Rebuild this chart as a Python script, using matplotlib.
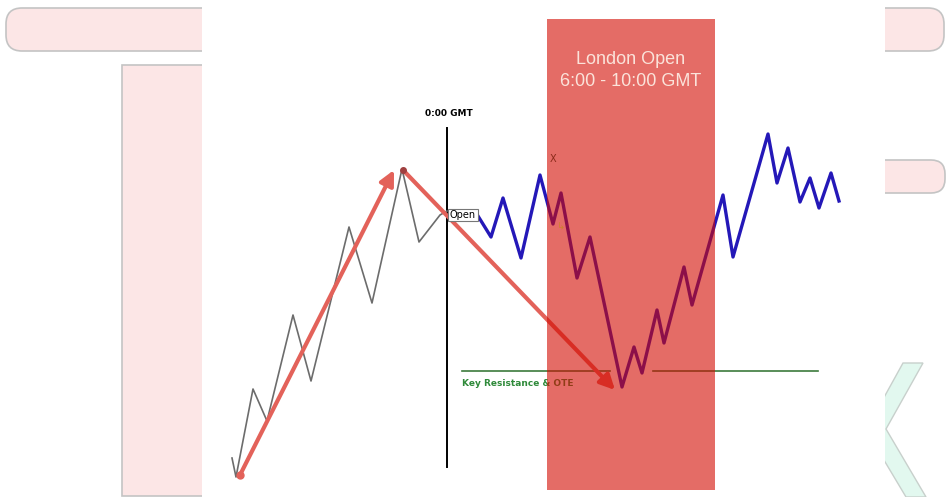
import matplotlib
matplotlib.use("Agg")
import matplotlib.pyplot as plt
from matplotlib.patches import Rectangle, FancyBboxPatch, Polygon

# price path before the 0:00 GMT open (x = time, y = screen position)
pre_x = [232, 236, 253, 267, 293, 311, 349, 372, 402, 419, 440, 447]
pre_y = [458, 477, 389, 421, 315, 381, 227, 303, 169, 242, 215, 211]

# price path after the open
post_x = [478, 491, 503, 521, 540, 553, 561, 577, 590, 622, 634, 642, 657,
          664, 684, 692, 723, 733, 768, 777, 788, 800, 810, 819, 831, 839]
post_y = [216, 237, 198, 258, 175, 224, 193, 278, 237, 387, 347, 373, 310,
          343, 267, 305, 195, 257, 134, 183, 148, 202, 178, 208, 173, 201]

# swing arrows (start, end)
swing_up = [(240, 475), (394, 170)]
swing_down = [(403, 170), (615, 390)]

# key resistance level
level_y = 371
level_left = (462, 610)
level_right = (653, 818)

session_x = (547, 715)
open_x = 447

fig = plt.figure(figsize=(9.47, 4.97), dpi=100)
ax = fig.add_axes([0, 0, 1, 1])
ax.set_xlim(0, 947)
ax.set_ylim(497, 0)
ax.axis("off")

pink = "#fce6e6"
edge = "#c4c4c4"

# slide decorations behind the chart panel
ax.add_patch(FancyBboxPatch((6, 8), 938, 43, boxstyle="round,pad=0,rounding_size=16",
                            fc=pink, ec=edge, lw=1.2, zorder=1))
ax.add_patch(FancyBboxPatch((800, 160), 145, 33, boxstyle="round,pad=0,rounding_size=14",
                            fc=pink, ec=edge, lw=1.2, zorder=1))
ax.add_patch(Rectangle((122, 65), 120, 431, fc=pink, ec=edge, lw=1.2, zorder=1))
ax.add_patch(Polygon([(903, 363), (923, 363), (886, 429), (926, 497), (906, 497), (866, 430)],
                     closed=True, fc="#e2f8ef", ec="#c8d0cc", lw=1, zorder=1))

# white chart panel
ax.add_patch(Rectangle((202, 0), 683, 497, fc="white", ec="none", zorder=2))

# open line
ax.plot([open_x, open_x], [128, 467], color="black", lw=1.4, zorder=3)
ax.text(449, 114, "0:00 GMT", fontsize=6.5, fontweight="bold", ha="center", va="center", zorder=6)

# price paths
ax.plot(pre_x, pre_y, color="#6c6c6c", lw=1.2, zorder=3)
ax.plot(post_x, post_y, color="#2418b8", lw=2.4, zorder=3)

# key level
ax.plot(level_left, [level_y, level_y], color="#3c7a3c", lw=1.2, zorder=3)
ax.plot(level_right, [level_y, level_y], color="#3c7a3c", lw=1.2, zorder=3)
ax.text(462, 383, "Key Resistance & OTE", fontsize=6.5, fontweight="bold",
        color="#2f8a3a", ha="left", va="center", zorder=3)

# swing arrows
arrow_col = "#e3625a"
for (s, e) in [swing_up, swing_down]:
    ax.annotate("", xy=e, xytext=s, zorder=4,
                arrowprops=dict(arrowstyle="-|>", color=arrow_col, lw=3,
                                mutation_scale=22, shrinkA=0, shrinkB=0))
ax.plot([swing_up[0][0]], [swing_up[0][1]], "o", color=arrow_col, ms=5, zorder=4)
ax.plot([swing_down[0][0]], [swing_down[0][1]], "o", color="#a04040", ms=4, zorder=4)

# London session box
ax.add_patch(Rectangle((session_x[0], 19), session_x[1] - session_x[0], 471,
                       fc="#d20a00", alpha=0.6, ec="none", zorder=5))
ax.text(631, 60, "London Open", fontsize=13, color="#fbe3da", ha="center", va="center",
        family="Liberation Sans", zorder=6)
ax.text(631, 81, "6:00 - 10:00 GMT", fontsize=13, color="#fbe3da", ha="center", va="center",
        family="Liberation Sans", zorder=6)

# labels
ax.text(463, 215, "Open", fontsize=7, ha="center", va="center", zorder=6,
        bbox=dict(boxstyle="square,pad=0.15", fc="white", ec="#777777", lw=0.8))
ax.text(553, 159, "X", fontsize=7, color="#8a2a1a", ha="center", va="center", zorder=6)
ax.text(561, 226, "\u21b3", fontsize=7, color="#d08030", ha="center", va="center", zorder=6)

fig.savefig("out.png", dpi=100)
